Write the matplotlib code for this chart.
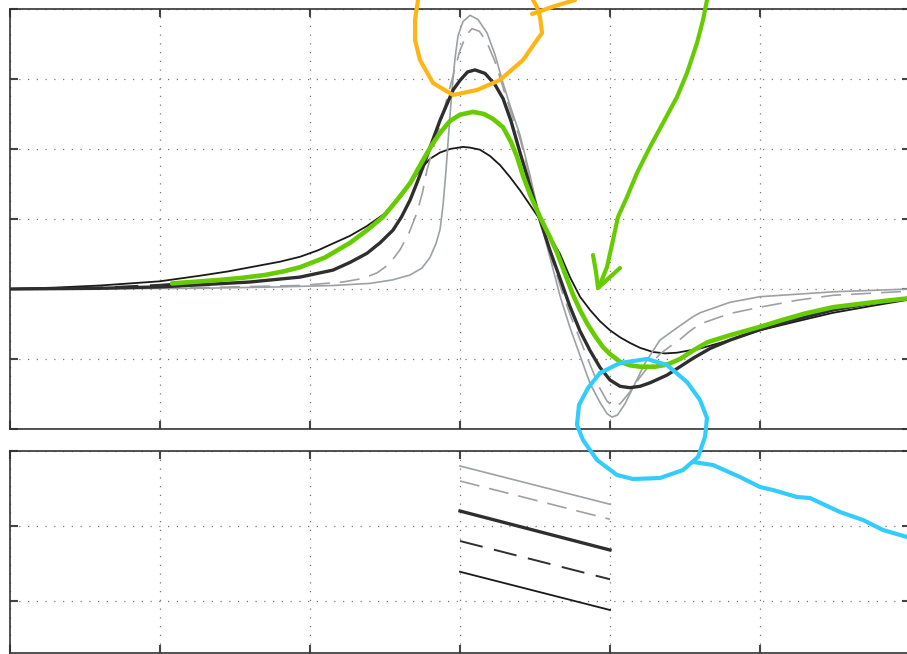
import matplotlib.pyplot as plt

# ---- top panel curves ----
x_thin = [-3.0, -2.7, -2.4, -2.0, -1.733, -1.55, -1.4, -1.2, -1.067, -0.95, -0.847, -0.733, -0.62,
          -0.5, -0.4, -0.333, -0.267,
          -0.2, -0.133, -0.067, 0.02, 0.067, 0.133, 0.2, 0.267, 0.333, 0.4, 0.467, 0.533, 0.6, 0.667,
          0.733, 0.8, 0.867, 0.933, 1.0, 1.067, 1.133, 1.2, 1.287, 1.367, 1.447, 1.6, 1.8, 2.0,
          2.25, 2.487, 2.75, 3.0]
y_thin = [0.0, 0.02, 0.05, 0.11, 0.19, 0.25, 0.31, 0.39, 0.46, 0.55, 0.65, 0.76, 0.9,
          1.08, 1.3, 1.5, 1.7,
          1.86, 1.95, 2.0, 2.03, 2.02, 1.99, 1.9, 1.77, 1.6, 1.41, 1.2, 0.99, 0.75, 0.5,
          0.17, -0.11, -0.3, -0.46, -0.59, -0.69, -0.77, -0.84, -0.9, -0.92, -0.91, -0.85, -0.73, -0.59,
          -0.46, -0.34, -0.24, -0.15]

x_thick = [-3.0, -2.4, -2.0, -1.733, -1.4, -1.067, -0.847, -0.733, -0.62, -0.533, -0.447, -0.39,
           -0.333, -0.29, -0.247, -0.19, -0.133, -0.047, 0.0, 0.05, 0.1, 0.167, 0.233, 0.287, 0.34,
           0.4, 0.467, 0.533, 0.6, 0.667, 0.733, 0.8, 0.867, 0.933, 1.0, 1.067, 1.133, 1.2, 1.267,
           1.38, 1.467, 1.553, 1.667, 1.8, 2.0, 2.25, 2.487, 2.75, 3.0]
y_thick = [0.0, 0.01, 0.03, 0.06, 0.1, 0.17, 0.27, 0.38, 0.51, 0.66, 0.84, 1.03,
           1.27, 1.5, 1.74, 2.08, 2.41, 2.84, 2.98, 3.1, 3.13, 3.08, 2.92, 2.72, 2.4,
           1.95, 1.47, 0.99, 0.55, 0.15, -0.25, -0.6, -0.88, -1.12, -1.3, -1.39, -1.41, -1.39, -1.34,
           -1.23, -1.11, -0.99, -0.85, -0.73, -0.58, -0.43, -0.3, -0.2, -0.13]

x_dark_dash = [-3.0, -2.4, -2.0, -1.6, -1.3, -1.067, -0.9, -0.733, -0.62, -0.513, -0.42, -0.333,
               -0.247, -0.19, -0.133, -0.067, 0.0, 0.087, 0.16, 0.22, 0.287, 0.34, 0.38, 0.42, 0.467,
               0.533, 0.6, 0.647, 0.7, 0.753, 0.8, 0.847, 0.9, 0.953, 1.0, 1.067, 1.133, 1.2, 1.3,
               1.38, 1.467, 1.553, 1.65, 1.8, 2.0, 2.153, 2.3, 2.487, 2.75, 3.0]
y_dark_dash = [0.0, 0.02, 0.06, 0.13, 0.2, 0.3, 0.45, 0.66, 0.84, 1.03, 1.27, 1.51,
               1.84, 2.05, 2.23, 2.4, 2.49, 2.53, 2.5, 2.43, 2.31, 2.1, 1.89, 1.62, 1.35,
               1.03, 0.74, 0.52, 0.22, -0.08, -0.3, -0.49, -0.67, -0.83, -0.93, -1.04, -1.09, -1.11, -1.11,
               -1.08, -1.0, -0.88, -0.76, -0.66, -0.54, -0.44, -0.35, -0.26, -0.19, -0.13]

x_gray_dash = [-3.0, -1.733, -1.067, -0.78, -0.65, -0.553, -0.47, -0.4, -0.34, -0.287, -0.25, -0.22,
               -0.18, -0.133, -0.087, -0.04, 0.0, 0.04, 0.08, 0.13, 0.18, 0.233, 0.287, 0.34, 0.4,
               0.467, 0.533, 0.6, 0.667, 0.733, 0.8, 0.867, 0.933, 0.98, 1.02, 1.067, 1.133, 1.2,
               1.267, 1.333, 1.4, 1.467, 1.533, 1.6, 1.8, 2.0, 2.25, 2.487, 3.0]
y_gray_dash = [0.0, 0.02, 0.05, 0.1, 0.15, 0.23, 0.36, 0.56, 0.8, 1.09, 1.38, 1.7,
               2.0, 2.35, 2.72, 3.1, 3.41, 3.62, 3.72, 3.68, 3.52, 3.25, 2.88, 2.52, 2.15,
               1.58, 1.0, 0.52, 0.05, -0.36, -0.72, -1.08, -1.42, -1.6, -1.68, -1.64, -1.47, -1.26,
               -1.08, -0.93, -0.82, -0.72, -0.6, -0.5, -0.35, -0.26, -0.16, -0.09, -0.03]

x_gray = [-3.0, -1.733, -1.2, -0.847, -0.6, -0.45, -0.333, -0.253, -0.2, -0.16, -0.133, -0.113,
          -0.093, -0.073, -0.053, -0.033, -0.013, 0.02, 0.067, 0.12, 0.18, 0.233, 0.287, 0.34, 0.4,
          0.467, 0.533, 0.6, 0.667, 0.733, 0.8, 0.867, 0.933, 0.98, 1.013, 1.05, 1.1, 1.167, 1.233,
          1.333, 1.45, 1.55, 1.6, 1.8, 2.0, 2.487, 3.0]
y_gray = [0.0, 0.01, 0.03, 0.05, 0.08, 0.13, 0.2, 0.3, 0.45, 0.65, 0.85, 1.2,
          1.7, 2.3, 2.85, 3.3, 3.62, 3.82, 3.91, 3.85, 3.66, 3.35, 2.94, 2.58, 2.2,
          1.62, 1.0, 0.45, -0.1, -0.55, -0.95, -1.35, -1.62, -1.78, -1.83, -1.8, -1.64, -1.35, -1.06,
          -0.73, -0.55, -0.4, -0.34, -0.19, -0.11, -0.04, 0.0]

# hand drawn green trace over the dashed dark curve
x_green = [-1.92, -1.6, -1.45, -1.3, -1.18, -1.067, -0.9, -0.733, -0.62, -0.513, -0.42, -0.333,
           -0.247, -0.19,
           -0.133, -0.067, 0.0, 0.087, 0.16, 0.22, 0.287, 0.34, 0.38, 0.42, 0.467, 0.533, 0.6,
           0.647, 0.7, 0.753, 0.8, 0.847, 0.9, 0.953, 1.0, 1.067, 1.133, 1.2, 1.3, 1.38, 1.467,
           1.553, 1.65, 1.8, 2.0, 2.153, 2.3, 2.487, 2.75, 3.0]
y_green = [0.08, 0.13, 0.16, 0.2, 0.25, 0.31, 0.45, 0.66, 0.84, 1.03, 1.27, 1.51,
           1.84, 2.05,
           2.23, 2.4, 2.49, 2.53, 2.5, 2.43, 2.31, 2.1, 1.89, 1.62, 1.35, 1.03, 0.74,
           0.52, 0.22, -0.08, -0.3, -0.49, -0.67, -0.83, -0.93, -1.04, -1.09, -1.11, -1.11, -1.08, -1.0,
           -0.88, -0.76, -0.66, -0.54, -0.44, -0.35, -0.26, -0.19, -0.13]

# ---- bottom panel segments ----
seg_x = [0.0, 1.0]
seg_gray = [1.80, 1.29]
seg_gray_dash = [1.60, 1.09]
seg_thick = [1.20, 0.68]
seg_dark_dash = [0.80, 0.29]
seg_thin = [0.39, -0.12]

# ---- freehand annotation strokes (figure pixels) ----
orange_x = [418, 415, 415, 420, 433, 453, 477, 500, 523, 537, 542, 540, 537, 533]
orange_y = [0, 20, 40, 60, 83, 95, 90, 80, 60, 40, 33, 17, 7, 0]
orange_tail_x = [532, 555, 575]
orange_tail_y = [14, 6, 0]

arrow_x = [707, 703, 697, 687, 677, 663, 650, 637, 627, 618, 613, 607, 599]
arrow_y = [0, 20, 43, 73, 97, 123, 147, 173, 197, 217, 240, 267, 287]
arrow_head_x = [593, 596, 598, 610, 620]
arrow_head_y = [255, 272, 288, 277, 268]

blue_x = [600, 620, 647, 667, 687, 700, 707, 705, 698, 683, 660, 633, 617, 597, 583, 577, 579, 588, 600]
blue_y = [373, 363, 359, 365, 382, 400, 418, 437, 457, 470, 478, 479, 475, 460, 440, 425, 405, 388, 373]
blue_tail_x = [693, 713, 740, 760, 773, 797, 810, 840, 863, 883, 907]
blue_tail_y = [462, 465, 477, 487, 490, 497, 498, 512, 520, 530, 537]

GREEN = '#66cc00'
LIGHT = '#9ba1a5'
DARK = '#2e2e2e'


def style_axes(ax, ylim, yticks):
    ax.set_xlim(-3, 3)
    ax.set_ylim(*ylim)
    ax.set_xticks(range(-3, 4))
    ax.set_yticks(yticks)
    ax.grid(True, color='#777777', linestyle=(0, (1, 6)), linewidth=0.9)
    ax.tick_params(direction='in', length=6, width=1.5, color='#444444',
                   top=True, right=True, labelbottom=False, labelleft=False)
    for s in ax.spines.values():
        s.set_color('#333333')
        s.set_linewidth(1.2)


fig = plt.figure(figsize=(9.07, 6.54), dpi=100)

ax1 = fig.add_axes([10 / 907, 225 / 654, 900 / 907, 420 / 654])
style_axes(ax1, (-2, 4), [-2, -1, 0, 1, 2, 3, 4])
ax1.plot(x_thin, y_thin, color='#1a1a1a', lw=1.3)
ax1.plot(x_gray, y_gray, color=LIGHT, lw=1.2)
ax1.plot(x_gray_dash, y_gray_dash, color='#a0a0a0', lw=1.2, dashes=(12, 6))
ax1.plot(x_dark_dash, y_dark_dash, color=DARK, lw=1.4, dashes=(12, 6))
ax1.plot(x_thick, y_thick, color=DARK, lw=2.4)
ax1.plot(x_green, y_green, color=GREEN, lw=3.3, solid_capstyle='round', solid_joinstyle='round')

ax2 = fig.add_axes([10 / 907, 1 / 654, 900 / 907, 202 / 654])
style_axes(ax2, (-0.693, 2), [0, 1, 2])
ax2.plot(seg_x, seg_gray, color=LIGHT, lw=1.2)
ax2.plot(seg_x, seg_gray_dash, color='#a0a0a0', lw=1.2, dashes=(12, 6))
ax2.plot(seg_x, seg_thick, color=DARK, lw=2.4)
ax2.plot(seg_x, seg_dark_dash, color=DARK, lw=1.4, dashes=(12, 6))
ax2.plot(seg_x, seg_thin, color='#1a1a1a', lw=1.3)

# overlay for the freehand marks
ov = fig.add_axes([0, 0, 1, 1])
ov.set_xlim(0, 907)
ov.set_ylim(654, 0)
ov.axis('off')
ov.patch.set_alpha(0)
kw = dict(lw=3, solid_capstyle='round', solid_joinstyle='round')
ov.plot(orange_x, orange_y, color='#ffb516', **kw)
ov.plot(orange_tail_x, orange_tail_y, color='#ffb516', **kw)
ov.plot(arrow_x, arrow_y, color=GREEN, **kw)
ov.plot(arrow_head_x, arrow_head_y, color=GREEN, **kw)
ov.plot(blue_x, blue_y, color='#33ccff', **kw)
ov.plot(blue_tail_x, blue_tail_y, color='#33ccff', **kw)

fig.savefig('out.png', dpi=100)
